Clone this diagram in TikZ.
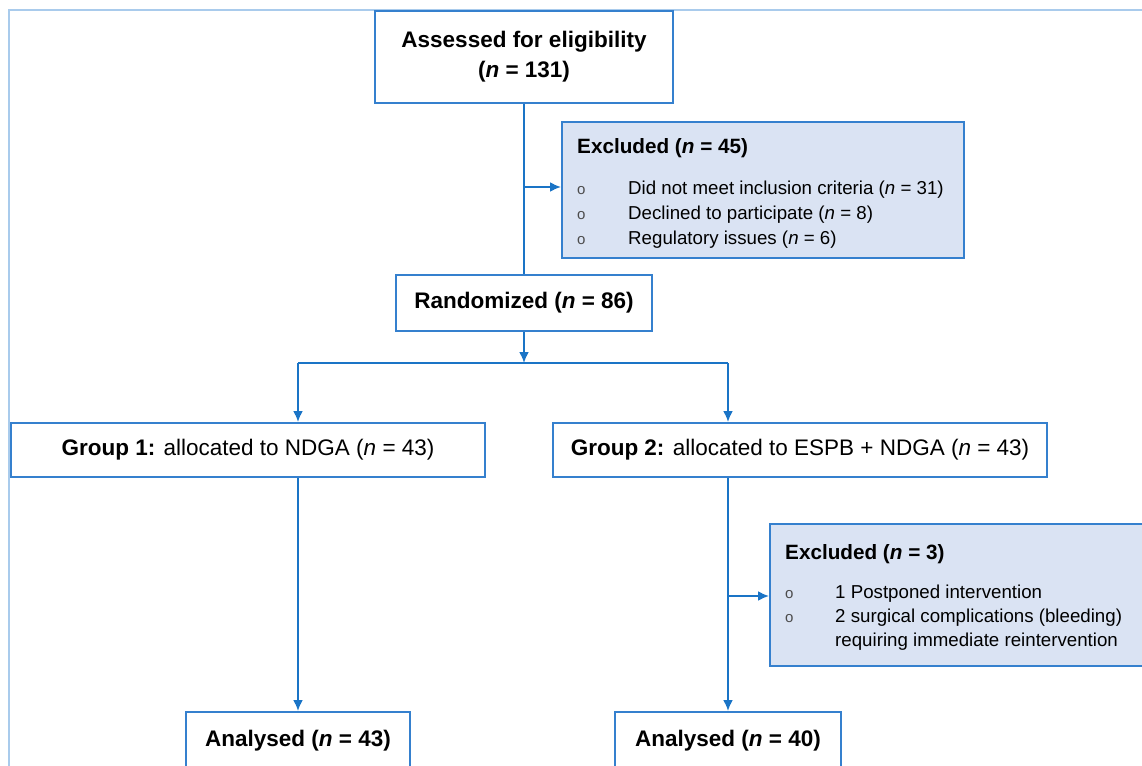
\documentclass[tikz,border=0pt]{standalone}
\usepackage{fontspec}
\setmainfont{Liberation Sans}
\usetikzlibrary{arrows.meta}
\definecolor{boxblue}{HTML}{3580CE}
\definecolor{linkblue}{HTML}{1A74C6}
\definecolor{frameblue}{HTML}{A9CBEC}
\definecolor{exclfill}{HTML}{DAE3F3}
\tikzset{>={Latex[length=11pt,width=10pt]}}
\newcommand{\exclmark}[1]{\makebox[#1][l]{\textcolor{black!70}{\fontsize{15}{15}\selectfont o}}}

\begin{document}
\begin{tikzpicture}[x=1pt, y=-1pt,
  box/.style={draw=boxblue, line width=2pt, fill=white, align=center, inner sep=0pt,
    font=\fontsize{22.5}{30}\selectfont\bfseries},
  grpbox/.style={draw=boxblue, line width=2pt, fill=white, align=center, inner sep=0pt,
    minimum height=54pt, font=\fontsize{22.5}{30}\selectfont},
  exclbox/.style={draw=boxblue, line width=2pt, fill=exclfill, anchor=north west, inner sep=0pt},
  excltext/.style={align=left, anchor=north west, inner sep=0pt, font=\fontsize{18.7}{25}\selectfont},
  link/.style={draw=linkblue, line width=2pt}]
\useasboundingbox (0,0) rectangle (1142,765);
\draw[frameblue, line width=2pt] (9,10) rectangle (1190,800);

\node[box, minimum width=298pt, minimum height=92pt] (assess) at (524,57)
  {Assessed for eligibility\\(\textit{n} = 131)};
\node[exclbox, minimum width=402pt, minimum height=136pt] (excl1) at (561,121) {};
\node[excltext] (excl1text) at (577,138.5)
  {{\bfseries\fontsize{20.7}{25}\selectfont Excluded (\textit{n} = 45)}\\[16pt]
   \exclmark{51pt}Did not meet inclusion criteria (\textit{n} = 31)\\
   \exclmark{51pt}Declined to participate (\textit{n} = 8)\\
   \exclmark{51pt}Regulatory issues (\textit{n} = 6)};
\node[box, minimum width=256pt, minimum height=56pt] (rand) at (524,303)
  {Randomized (\textit{n} = 86)};
\node[grpbox, minimum width=474pt] (grp1) at (248,450)
  {\textbf{Group 1:} allocated to NDGA (\textit{n} = 43)};
\node[grpbox, minimum width=494pt] (grp2) at (800,450)
  {\textbf{Group 2:} allocated to ESPB + NDGA (\textit{n} = 43)};
\node[exclbox, minimum width=420pt, minimum height=142pt] (excl2) at (769,523) {};
\node[excltext] (excl2text) at (785,544.5)
  {{\bfseries\fontsize{20.7}{24}\selectfont Excluded (\textit{n} = 3)}\\[14pt]
   \exclmark{50pt}1 Postponed intervention\\[-1pt]
   \exclmark{50pt}2 surgical complications (bleeding)\\[-1pt]
   \makebox[50pt]{}requiring immediate reintervention};
\node[box, minimum width=224pt, minimum height=58pt] (ana1) at (298,741)
  {Analysed (\textit{n} = 43)};
\node[box, minimum width=226pt, minimum height=58pt] (ana2) at (728,741)
  {Analysed (\textit{n} = 40)};

\coordinate (fork1) at (524,187);
\coordinate (split) at (524,363);
\coordinate (splitl) at (298,363);
\coordinate (splitr) at (728,363);
\coordinate (fork2) at (728,596);

\draw[link] (assess) -- (rand);
\draw[link] (splitl) -- (splitr);
\draw[link, ->] (fork1) -- (fork1 -| excl1.west);
\draw[link, ->] (rand) -- (split);
\draw[link, ->] (splitl) -- (splitl |- grp1.north);
\draw[link, ->] (splitr) -- (splitr |- grp2.north);
\draw[link, ->] (ana1.north |- grp1.south) -- (ana1);
\draw[link, ->] (ana2.north |- grp2.south) -- (ana2);
\draw[link, ->] (fork2) -- (fork2 -| excl2.west);
\end{tikzpicture}
\end{document}
